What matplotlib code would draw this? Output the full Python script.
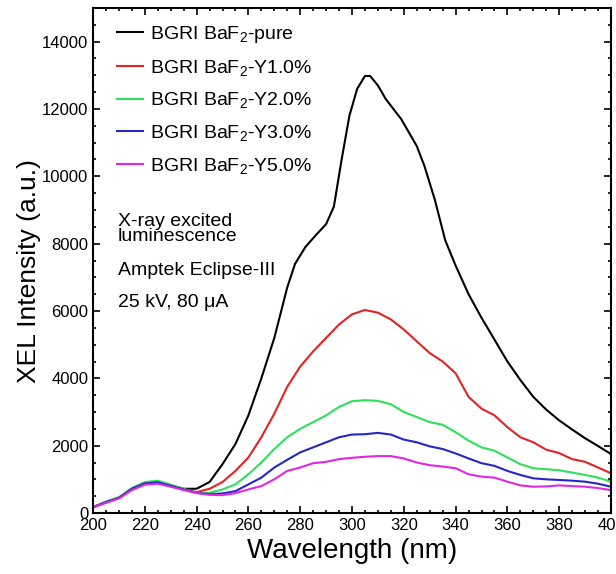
import numpy as np
import matplotlib
matplotlib.use("Agg")
import matplotlib.pyplot as plt
from matplotlib.ticker import MultipleLocator

plt.rcParams["font.family"] = ["Liberation Sans", "DejaVu Sans"]
plt.rcParams["mathtext.default"] = "regular"

# the pure sample has a sharp peak, so it is read on a finer grid
pure_wl = [200, 205, 210, 215, 220, 225, 230, 235, 240, 245, 250, 255, 260, 265,
           270, 275, 278, 282, 286, 290, 293, 296, 299, 302, 305, 307, 310, 313,
           316, 319, 322, 325, 328, 332, 336, 340, 345, 350, 355, 360, 365, 370,
           375, 380, 385, 390, 395, 400]
pure = [170, 330, 450, 700, 880, 920, 820, 720, 720, 920, 1450, 2050, 2900, 4000,
        5200, 6700, 7400, 7900, 8250, 8580, 9100, 10500, 11800, 12600, 12980, 12980,
        12700, 12300, 12000, 11700, 11300, 10900, 10300, 9300, 8100, 7350, 6500, 5800,
        5150, 4500, 3950, 3450, 3070, 2750, 2480, 2220, 1990, 1750]

wavelength = [200, 205, 210, 215, 220, 225, 230, 235, 240, 245, 250, 255, 260, 265,
              270, 275, 280, 285, 290, 295, 300, 305, 310, 315, 320, 325, 330, 335,
              340, 345, 350, 355, 360, 365, 370, 375, 380, 385, 390, 395, 400]
y10 = [170, 330, 450, 700, 870, 900, 810, 700, 620, 720, 920, 1250, 1650, 2250,
       2950, 3750, 4350, 4800, 5200, 5600, 5900, 6030, 5950, 5750, 5450, 5100, 4750,
       4500, 4150, 3450, 3100, 2900, 2550, 2250, 2100, 1880, 1780, 1600, 1520, 1350,
       1180]
y20 = [170, 340, 470, 740, 920, 960, 840, 720, 600, 600, 700, 850, 1150, 1500,
       1900, 2250, 2500, 2700, 2900, 3150, 3320, 3350, 3330, 3230, 3000, 2850, 2700,
       2620, 2400, 2150, 1950, 1850, 1650, 1450, 1330, 1300, 1270, 1200, 1130, 1050,
       930]
y30 = [170, 320, 450, 720, 880, 910, 810, 700, 600, 560, 580, 650, 850, 1050,
       1350, 1580, 1800, 1950, 2100, 2250, 2330, 2340, 2380, 2330, 2180, 2100, 1980,
       1900, 1770, 1620, 1480, 1400, 1250, 1130, 1030, 1000, 980, 960, 930, 870, 780]
y50 = [160, 300, 430, 680, 840, 870, 780, 680, 590, 540, 530, 590, 700, 800,
       1000, 1250, 1350, 1480, 1520, 1600, 1640, 1670, 1690, 1690, 1620, 1500, 1420,
       1380, 1330, 1150, 1080, 1050, 930, 820, 780, 790, 820, 800, 780, 740, 680]

xs = [pure_wl, wavelength, wavelength, wavelength, wavelength]
series = [pure, y10, y20, y30, y50]
labels = ["BGRI BaF$_2$-pure", "BGRI BaF$_2$-Y1.0%", "BGRI BaF$_2$-Y2.0%",
          "BGRI BaF$_2$-Y3.0%", "BGRI BaF$_2$-Y5.0%"]
colors = ["black", "#e32222", "#2fe05a", "#2626c4", "#e028e0"]

fig = plt.figure(figsize=(6.16, 5.74), dpi=100)
ax = fig.add_axes([93 / 616, 61 / 574, 518 / 616, 505 / 574])

for x, vals, lab, c in zip(xs, series, labels, colors):
    ax.plot(x, vals, color=c, lw=1.5, label=lab)

ax.set_xlim(200, 400)
ax.set_ylim(0, 15000)
ax.xaxis.set_major_locator(MultipleLocator(20))
ax.xaxis.set_minor_locator(MultipleLocator(5))
ax.yaxis.set_major_locator(MultipleLocator(2000))
ax.yaxis.set_minor_locator(MultipleLocator(500))
ax.tick_params(which="both", direction="in", top=True, right=True, width=1.2,
               labelsize=12)
ax.tick_params(which="major", length=5)
ax.tick_params(which="minor", length=2.5)
for s in ax.spines.values():
    s.set_linewidth(1.5)

ax.set_xlabel("Wavelength (nm)", fontsize=20)
ax.set_ylabel("XEL Intensity (a.u.)", fontsize=19)
ax.yaxis.set_label_coords(-0.10, 0.479)

ax.legend(loc="upper left", frameon=False, fontsize=14, handlelength=1.33,
          handletextpad=0.35, labelspacing=0.65, borderaxespad=0.3,
          bbox_to_anchor=(0.021, 0.995))

ax.text(0.048, 0.563, "X-ray excited\nluminescence", transform=ax.transAxes,
        fontsize=14, va="center", linespacing=0.85)
ax.text(0.048, 0.481, "Amptek Eclipse-III", transform=ax.transAxes,
        fontsize=14, va="center")
ax.text(0.048, 0.416, "25 kV, 80 μA", transform=ax.transAxes,
        fontsize=14, va="center")

fig.savefig("out.png", dpi=100)
